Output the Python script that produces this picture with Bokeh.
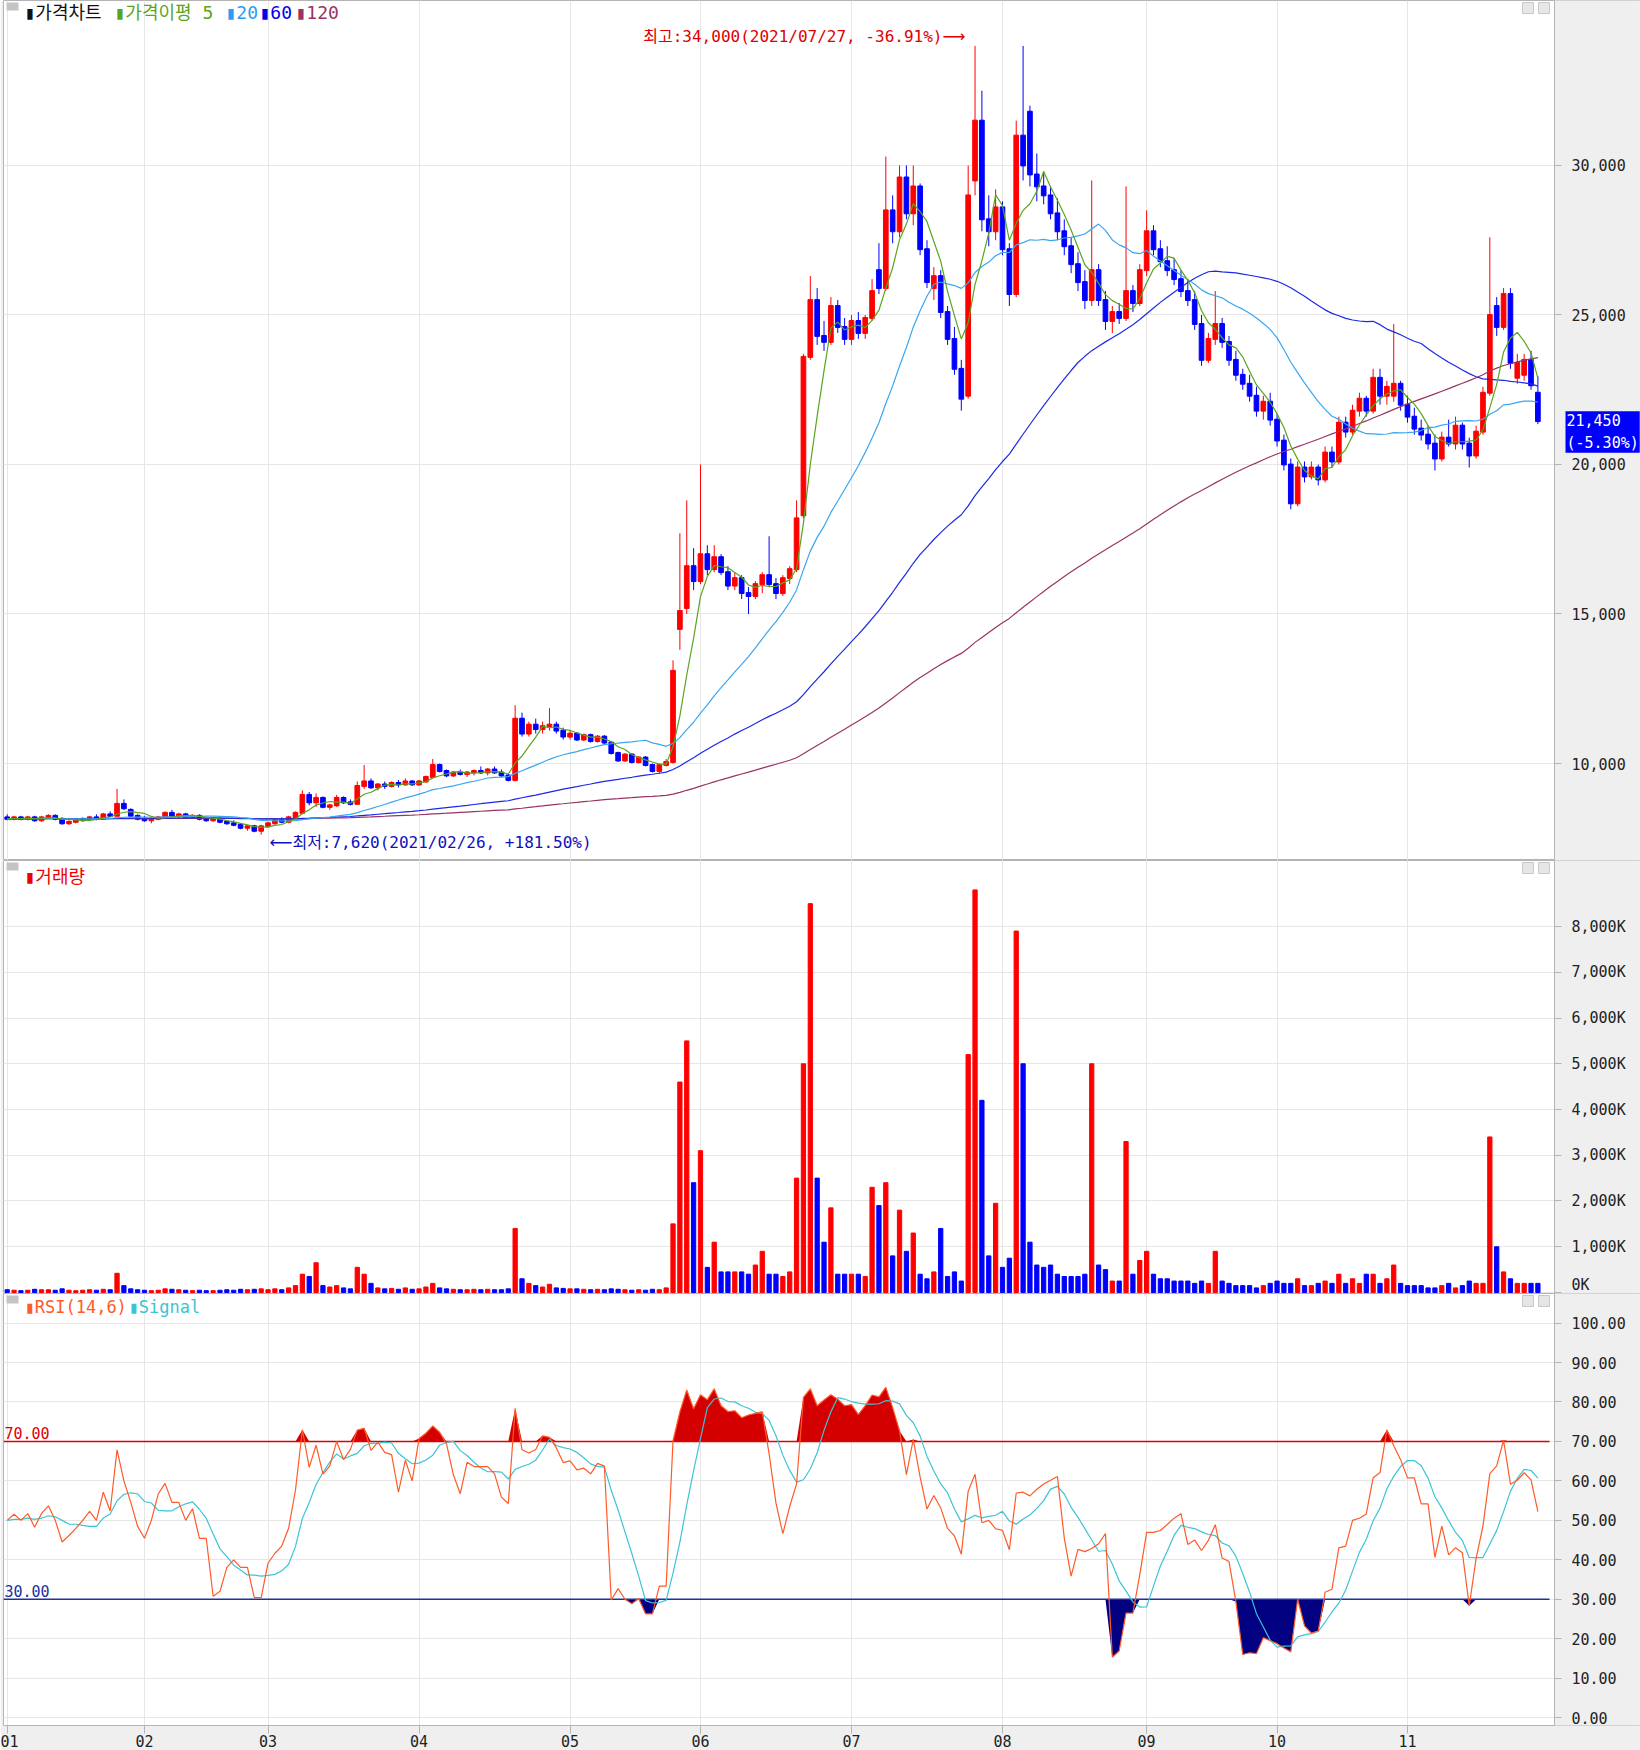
import numpy as np
import pandas as pd
from bokeh.plotting import figure
from bokeh.layouts import column
from bokeh.models import Range1d, FixedTicker, Label, NumeralTickFormatter, ColumnDataSource
from bokeh.embed import file_html
from bokeh.resources import INLINE

# ---------------- data (daily, 2021-01-04 .. 2021-11-26) ----------------
month_labels = ["01", "02", "03", "04", "05", "06", "07", "08", "09", "10", "11"]
month_days = [20, 18, 22, 22, 19, 22, 22, 21, 19, 19, 20]

opens = [
 8200,8150,8200,8150,8200,8100,8200,8250,8150,8000,8050,8100,8150,8200,8150,8300,8250,8650,8450,8250,
 8150,8100,8150,8200,8350,8250,8300,8200,8250,8150,8100,8150,8050,8000,7950,7850,7900,7750,
 7900,8000,8100,8050,8200,8350,8950,8700,8850,8550,8600,8850,8700,8650,9250,9400,9200,9300,9250,9350,9300,9400,
 9300,9400,9550,9950,9750,9600,9700,9650,9700,9750,9700,9800,9700,9600,9450,11500,11000,11300,11150,11250,11300,11100,
 10900,11000,10800,10950,10750,10900,10700,10350,10100,10300,10050,10200,9950,9750,9950,10050,14500,15200,16600,
 16100,17000,16500,16900,16400,15950,16200,15700,15600,16000,16300,16000,15700,16200,16500,18300,23600,25500,24300,24100,25300,24600,
 24200,24800,24400,24900,26500,25900,28500,27800,29600,28400,29300,27200,25900,26300,25100,24200,23200,22300,29500,31500,28200,27800,
 28600,27200,25700,31000,31800,29700,29300,29000,28400,27800,27300,26700,26100,25500,26500,25500,24800,25100,24900,25800,25400,
 26500,27800,27200,26800,26500,26200,25800,25500,24700,23500,24200,24700,24100,23500,23000,22700,22300,21800,22100,
 21500,20800,20000,18700,19900,19600,19900,19500,20400,20100,21400,21100,21800,22200,21800,22900,22300,22300,22700,
 22000,21600,21200,21000,20700,20200,20900,20700,21300,20700,20300,21100,22400,25300,24600,25700,22900,23000,23500,22400,
]
highs = [
 8300,8250,8250,8250,8250,8250,8300,8300,8200,8100,8150,8200,8250,8300,8350,8400,9150,8800,8500,8300,
 8250,8200,8250,8400,8450,8350,8350,8300,8300,8200,8200,8200,8100,8100,8000,7950,7950,7950,
 8050,8150,8200,8250,8400,9100,9050,9000,8900,8650,8950,8900,8800,9400,9950,9500,9350,9400,9400,9450,9500,9450,
 9450,9600,10150,10000,9800,9750,9800,9750,9800,9900,9850,9900,9800,9650,11950,11700,11400,11500,11400,11850,11400,11200,
 11100,11050,11000,11000,10950,10950,10750,10400,10350,10350,10250,10250,10000,10000,10150,13450,17700,18800,17200,
 20000,17300,17300,17000,16600,16400,16300,15900,16100,16400,17600,16200,16300,16600,18800,23700,26300,25900,24800,25600,25500,24900,
 25000,25100,25000,26200,27400,30300,29000,30000,30000,30000,29400,27500,26600,26500,25300,24600,23500,30000,34000,32500,29000,29200,
 28800,27400,31500,34000,32000,30400,29800,29300,28900,28200,27600,27100,26500,29500,26700,25800,25300,25400,29300,26000,26700,
 28500,28000,27500,27300,26900,26500,26200,25800,25000,24400,25800,24900,24300,23800,23200,23000,22600,22300,22400,
 21700,21000,20200,20100,20100,20100,20000,20600,20600,21600,21600,22000,22400,22300,23200,23200,22800,24700,22800,
 22300,21900,21500,21300,21000,21100,21500,21600,21400,20900,21300,22600,27600,25600,25900,25900,23700,23700,23800,22950,
]
lows = [
 8100,8100,8100,8100,8050,8050,8150,8100,7950,7950,8000,8050,8100,8100,8150,8200,8250,8450,8200,8100,
 8050,8000,8100,8150,8200,8150,8150,8150,8100,8050,8050,8000,7950,7900,7800,7750,7700,7620,
 7850,7950,8000,8000,8150,8300,8600,8550,8500,8450,8550,8650,8600,8650,9150,9150,9100,9150,9200,9200,9250,9250,
 9250,9350,9500,9700,9550,9550,9600,9550,9600,9650,9600,9650,9550,9400,9400,10900,10900,11000,11000,11100,11000,10800,
 10800,10750,10750,10700,10700,10650,10300,10050,10050,10000,10000,9900,9700,9650,9900,10000,13800,15000,15800,
 16000,16300,16400,16300,15800,15800,15500,15000,15500,15700,15900,15500,15600,16000,16400,18200,23500,24000,23800,24000,24400,24000,
 24000,24200,24200,24800,25700,25800,27400,27600,28200,28000,27000,25900,25500,24900,24000,23000,21800,22200,29000,27800,27300,27500,
 27000,25300,25600,29500,29300,28800,28700,28200,27500,27000,26400,25800,25200,25300,25300,24500,24400,24700,24800,25100,25300,
 26300,27000,26600,26300,26000,25600,25300,24500,23300,23400,24000,23900,23300,22800,22500,22100,21600,21500,21300,
 20600,19800,18500,18600,19400,19500,19300,19400,19900,20000,20900,21000,21600,21600,21700,22000,22000,22100,21800,
 21400,21000,20800,20500,19800,20100,20600,20500,20500,19900,20200,21000,22300,24300,24500,23200,22700,22800,22500,21350,
]
closes = [
 8150,8200,8150,8200,8100,8200,8250,8150,8000,8050,8100,8150,8200,8150,8300,8250,8650,8500,8250,8150,
 8100,8150,8200,8350,8250,8300,8200,8250,8150,8100,8150,8050,8000,7950,7850,7900,7750,7900,
 8000,8100,8050,8200,8350,8950,8700,8850,8550,8600,8850,8700,8650,9250,9400,9200,9300,9250,9350,9300,9400,9300,
 9400,9550,9950,9750,9600,9700,9650,9700,9750,9700,9800,9700,9600,9450,11500,11000,11300,11150,11250,11300,11100,10900,
 11000,10800,10950,10750,10900,10700,10350,10100,10300,10050,10200,9950,9750,9950,10050,13100,15100,16600,16100,
 17000,16500,16900,16400,15950,16200,15700,15600,16000,16300,16000,15700,16200,16500,18200,23600,25500,24300,24100,25300,24600,24200,
 24800,24400,24900,25800,25900,28500,27800,29600,28400,29300,27200,26100,26300,25100,24200,23200,22200,29000,31500,28200,27800,28600,
 27200,25700,31000,30000,29700,29300,29000,28400,27800,27300,26700,26100,25500,26500,25500,24800,25100,24900,25800,25400,26500,
 27800,27200,26800,26500,26200,25800,25500,24700,23500,24200,24700,24100,23500,23000,22700,22300,21800,22100,21500,
 20800,20000,18700,19900,19600,19900,19500,20400,20100,21400,21100,21800,22200,21800,22900,22300,22600,22700,22000,
 21600,21200,21000,20700,20200,20900,20700,21300,20700,20300,21100,22400,25000,24600,25700,23400,23400,23500,22650,21450,
]
volumes_k = [
 60,50,40,50,70,60,60,50,80,50,40,50,60,50,70,60,420,150,80,60,
 50,40,50,80,70,60,50,40,50,40,40,50,60,50,70,60,70,80,
 60,80,60,100,150,400,350,650,150,120,150,100,80,550,400,200,100,80,90,70,100,70,
 80,120,200,100,80,70,60,60,70,60,70,60,60,80,1400,300,200,150,120,180,100,90,
 80,80,70,60,70,60,80,70,60,50,60,50,70,60,100,1500,4600,5500,2400,
 3100,550,1100,450,450,450,450,400,600,900,400,400,350,450,2500,5000,8500,2500,1100,1850,400,400,
 400,400,350,2300,1900,2400,800,1800,900,1300,400,300,450,1400,350,450,250,5200,8800,4200,800,1950,
 550,750,7900,5000,1100,600,550,600,400,350,350,350,400,5000,600,500,250,250,3300,400,700,
 900,400,300,300,250,250,250,200,250,200,900,250,200,150,150,150,100,150,200,
 250,200,200,300,150,150,200,250,200,400,200,300,200,400,400,200,300,600,200,
 150,150,150,100,100,150,200,100,150,250,200,200,3400,1000,450,300,200,200,200,200,
]
price_ticks = [10000, 15000, 20000, 25000, 30000]
volume_ticks = [0, 1000, 2000, 3000, 4000, 5000, 6000, 7000, 8000]
rsi_ticks = [0, 10, 20, 30, 40, 50, 60, 70, 80, 90, 100]
last_change_pct = -5.30

N = len(closes)
assert len(opens) == N and len(highs) == N and len(lows) == N and len(volumes_k) == N == sum(month_days)

# ---------------- derived ----------------
idx = np.arange(N)
o = np.array(opens, float); h = np.array(highs, float)
l = np.array(lows, float); c = np.array(closes, float)
v = np.array(volumes_k, float)
RED, BLUE = "#ff0000", "#0000ff"
colors = np.where(c >= o, RED, BLUE)


def sma(arr, n):
    # warm-up: history before the first day assumed flat at the first close
    padded = np.concatenate([np.full(n - 1, arr[0]), arr])
    return pd.Series(padded).rolling(n).mean().values[n - 1:]


ma5, ma20, ma60, ma120 = (sma(c, n) for n in (5, 20, 60, 120))

RSI_N, SIG_N = 14, 6
diff = np.diff(c)
seed = np.full(RSI_N, 60.0)  # neutral warm-up
gains = np.concatenate([seed, np.clip(diff, 0, None)])
losses = np.concatenate([seed, np.clip(-diff, 0, None)])
g = pd.Series(gains).rolling(RSI_N).sum().values[RSI_N - 1:]
ls_ = pd.Series(losses).rolling(RSI_N).sum().values[RSI_N - 1:]
rsi = 100 * g / (g + ls_)
sig = np.concatenate([np.full(SIG_N - 1, rsi[0]), rsi])
sig = pd.Series(sig).rolling(SIG_N).mean().values[SIG_N - 1:]
month_idx = [int(t) for t in np.cumsum([0] + month_days[:-1])]

src = ColumnDataSource(dict(x=idx, o=o, h=h, l=l, c=c, v=v, col=colors,
                            top=np.maximum(o, c) + 15, bot=np.minimum(o, c) - 15))

# ---------------- layout ----------------
W = 1640
LB = 3
VIS = 1551                    # visible plotting width (px); right of it is the grey axis strip
X0, X1V = -0.54, 225.42       # data range of the visible plotting area
PXU = (X1V - X0) / VIS
X1 = X0 + (W - LB) * PXU      # frame spans whole width, axis strip drawn inside
xr = Range1d(X0, X1)
KFONT = "'DejaVu Sans Mono', 'Noto Sans CJK KR', sans-serif"
NFONT = "'DejaVu Sans Mono', monospace"
AFONT = "'DejaVu Sans', sans-serif"
GRID = "#e6e6e6"
EDGE = "#b4b4b4"
STRIP = "#efefef"


def xd(px):
    return X0 + (px - LB) * PXU


def yd(py, fh, y0, y1):
    return y1 - py * (y1 - y0) / fh


def make_fig(fh, y0, y1, bottom=0):
    p = figure(width=W, height=fh + bottom, x_range=xr, y_range=Range1d(y0, y1),
               y_axis_location="right", output_backend="svg", toolbar_location=None,
               min_border_left=LB, min_border_right=0, min_border_top=0, min_border_bottom=bottom)
    p.background_fill_color = "white"
    p.border_fill_color = STRIP
    p.outline_line_color = EDGE
    p.ygrid.grid_line_color = GRID
    p.xgrid.grid_line_color = GRID
    p.xgrid.ticker = FixedTicker(ticks=month_idx)
    span = (y1 - y0)
    p.quad(left=[X1V], right=[X1 + 5], top=[y1 + span], bottom=[y0 - span],
           fill_color=STRIP, line_color=None)
    ax = p.yaxis[0]
    ax.fixed_location = X1V
    ax.axis_line_color = EDGE
    ax.major_tick_line_color = EDGE
    ax.major_tick_in = 0
    ax.major_tick_out = 7
    ax.minor_tick_line_color = None
    ax.major_label_standoff = 10
    ax.major_label_text_font = NFONT
    ax.major_label_text_font_size = "15px"
    ax.major_label_text_color = "#222222"
    p.xaxis.visible = bottom > 0
    return p


def corner_icons(p, fh, y0, y1):
    p.quad(left=[xd(6)], right=[xd(18)], top=[yd(2, fh, y0, y1)], bottom=[yd(10, fh, y0, y1)],
           fill_color="#c4c4c4", line_color=None)
    for a in (1522, 1538):
        p.quad(left=[xd(a)], right=[xd(a + 11)], top=[yd(2, fh, y0, y1)], bottom=[yd(13, fh, y0, y1)],
               fill_color="#e6e6e6", line_color="#c8c8c8")


def legend_items(p, fh, y0, y1, items, py, size="18px"):
    for px, txt, col in items:
        p.add_layout(Label(x=xd(px), y=yd(py, fh, y0, y1), text=txt, text_color=col,
                           text_font=KFONT, text_font_size=size, text_baseline="middle"))


# ---- price panel ----
F1, PY0, PY1 = 860, 6756, 35518
p1 = make_fig(F1, PY0, PY1)
p1.yaxis.ticker = FixedTicker(ticks=price_ticks)
p1.yaxis.formatter = NumeralTickFormatter(format="0,0")
p1.segment(x0="x", y0="l", x1="x", y1="h", color="col", line_width=1, source=src)
p1.vbar(x="x", width=0.68, top="top", bottom="bot", fill_color="col", line_color="col", source=src)
p1.line(idx, ma120, line_color="#993366", line_width=1.2)
p1.line(idx, ma60, line_color="#1c28e8", line_width=1.2)
p1.line(idx, ma20, line_color="#3aa6f0", line_width=1.2)
p1.line(idx, ma5, line_color="#5aa51e", line_width=1.2)
corner_icons(p1, F1, PY0, PY1)
legend_items(p1, F1, PY0, PY1, [(24, "▮가격차트", "#111111"), (114, "▮가격이평 5", "#5aa51e"),
                                (225, "▮20", "#2a9df4"), (259, "▮60", "#0000ee"), (295, "▮120", "#993366")], 12)
imax = int(np.argmax(h)); imin = int(np.argmin(l))
ARROW = 4.3  # arrow length in days
p1.add_layout(Label(x=imax - 0.45 - ARROW, y=34330, text=f"최고:{int(h[imax]):,}(2021/07/27, -36.91%)",
                    text_color="#e00000", text_font=KFONT, text_font_size="16px",
                    text_align="right", text_baseline="middle"))
p1.add_layout(Label(x=imax - 0.45 - ARROW, y=34330, text="⟶", text_color="#e00000", text_font=AFONT,
                    text_font_size="16px", text_align="left", text_baseline="middle"))
p1.add_layout(Label(x=imin + 0.25 + ARROW, y=7350, text=f"최저:{int(l[imin]):,}(2021/02/26, +181.50%)",
                    text_color="#1010c0", text_font=KFONT, text_font_size="16px",
                    text_align="left", text_baseline="middle"))
p1.add_layout(Label(x=imin + 0.25 + ARROW, y=7350, text="⟵", text_color="#1010c0", text_font=AFONT,
                    text_font_size="16px", text_align="right", text_baseline="middle"))
upx = (PY1 - PY0) / F1
p1.add_layout(Label(x=xd(1565), y=c[-1] + 10 * upx, text=f"{int(c[-1]):,}\n({last_change_pct:.2f}%)",
                    text_color="white", text_font=NFONT, text_font_size="15px", text_align="left",
                    text_baseline="top", background_fill_color="#0000ff", padding=1))

# ---- volume panel ----
F2, VY0, VY1 = 433, -22, 9443
p2 = make_fig(F2, VY0, VY1)
p2.yaxis.ticker = FixedTicker(ticks=volume_ticks)
p2.yaxis.major_label_overrides = {t: f"{t:,}K" for t in volume_ticks}
p2.vbar(x="x", width=0.62, top="v", bottom=0, fill_color="col", line_color="col", source=src)
corner_icons(p2, F2, VY0, VY1)
legend_items(p2, F2, VY0, VY1, [(24, "▮거래량", "#ee0000")], 16)

# ---- RSI panel ----
F3, RY0, RY1 = 432, -2.0, 107.5
p3 = make_fig(F3, RY0, RY1, bottom=25)
p3.yaxis.ticker = FixedTicker(ticks=rsi_ticks)
p3.yaxis.formatter = NumeralTickFormatter(format="0.00")
p3.xaxis.ticker = FixedTicker(ticks=month_idx)
p3.xaxis.major_label_overrides = {i: m for i, m in zip(month_idx, month_labels)}
xa = p3.xaxis[0]
xa.axis_line_color = None
xa.major_tick_line_color = EDGE
xa.major_tick_in = 0
xa.major_tick_out = 8
xa.minor_tick_line_color = None
xa.major_label_text_align = "left"
xa.major_label_standoff = 1
xa.major_label_text_font = NFONT
xa.major_label_text_font_size = "15px"
xa.major_label_text_color = "#222222"
p3.varea(x=idx, y1=np.full(N, 70.0), y2=np.maximum(rsi, 70), fill_color="#d40000")
p3.varea(x=idx, y1=np.minimum(rsi, 30), y2=np.full(N, 30.0), fill_color="#000080")
p3.segment(x0=[X0, X0], y0=[70, 30], x1=[xd(1549), xd(1549)], y1=[70, 30],
           line_color=["#e00000", "#2030a0"], line_width=1.5)
p3.line(idx, sig, line_color="#3cc4d4", line_width=1.2)
p3.line(idx, rsi, line_color="#ff5a28", line_width=1.2)
p3.add_layout(Label(x=xd(4), y=70.6, text="70.00", text_color="#e00000", text_font=NFONT,
                    text_font_size="15px", text_baseline="bottom"))
p3.add_layout(Label(x=xd(4), y=30.6, text="30.00", text_color="#2030a0", text_font=NFONT,
                    text_font_size="15px", text_baseline="bottom"))
corner_icons(p3, F3, RY0, RY1)
legend_items(p3, F3, RY0, RY1, [(24, "▮RSI(14,6)", "#ff5a28"), (128, "▮Signal", "#3cc4d4")], 13, "17px")

layout = column(p1, p2, p3, spacing=0)
open("out.html", "w").write(file_html(layout, INLINE))
